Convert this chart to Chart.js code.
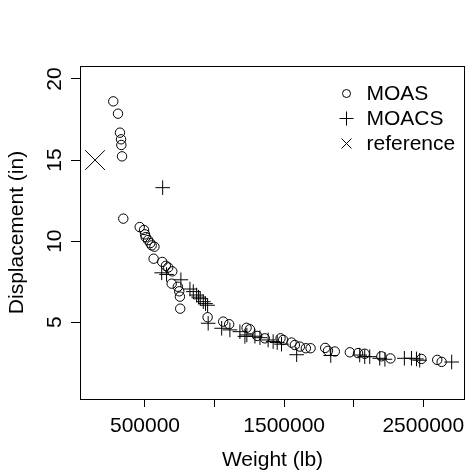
<!DOCTYPE html>
<html>
<head>
<meta charset="utf-8">
<script src="https://cdn.jsdelivr.net/npm/chart.js@4/dist/chart.umd.min.js"></script>
<style>
  body { margin: 0; background: #fff; }
  canvas { display: block; }
</style>
</head>
<body>
<canvas id="chart" width="466" height="473"></canvas>
<script>
// values
const moasWeight = [272000, 306000, 320000, 328000, 330000, 335000, 344000,
  462000, 493000, 500000, 505000, 522000, 538000, 548000, 568000, 562000,
  624000, 650000, 667000, 696000, 692000, 736000, 746000, 751000, 753000,
  950000, 1062000, 1105000, 1230000, 1254000, 1306000, 1361000, 1474000,
  1493000, 1553000, 1577000, 1613000, 1656000, 1690000, 1795000, 1815000,
  1864000, 1972000, 2031000, 2079000, 2199000, 2264000, 2486000, 2600000, 2632000];
const moasDisp = [18.62, 17.86, 16.69, 16.28, 15.93, 15.23, 11.39,
  10.87, 10.69, 10.42, 10.25, 10.07, 9.88, 9.74, 9.66, 8.92,
  8.72, 8.48, 8.38, 8.14, 7.38, 7.19, 6.91, 6.58, 5.84,
  5.31, 5.04, 4.88, 4.66, 4.57, 4.16, 4.01, 4.01,
  3.91, 3.75, 3.60, 3.50, 3.40, 3.40, 3.42, 3.24,
  3.20, 3.15, 3.10, 3.06, 2.90, 2.77, 2.74, 2.68, 2.56];

const moacsWeight = [627000, 620000, 655000, 758000, 823000, 847000, 871000,
  885000, 897000, 919000, 935000, 950000, 954000, 1051000, 1110000, 1182000,
  1218000, 1232000, 1290000, 1326000, 1385000, 1421000, 1450000, 1481000,
  1590000, 1835000, 2043000, 2079000, 2115000, 2187000, 2224000, 2364000,
  2415000, 2451000, 2474000, 2704000];
const moacsDisp = [13.30, 8.05, 7.95, 7.62, 7.05, 6.89, 6.68,
  6.55, 6.45, 6.27, 6.15, 6.05, 4.94, 4.63, 4.53, 4.42,
  4.13, 4.22, 4.14, 4.05, 3.91, 3.81, 3.75, 3.65,
  3.00, 2.95, 2.98, 2.88, 2.88, 2.78, 2.72, 2.78,
  2.78, 2.74, 2.66, 2.55];

const refWeight = [141000];
const refDisp = [15.0];

const seriesNames = ["MOAS", "MOACS", "reference"];
const xTicks = [500000, 1000000, 1500000, 2000000, 2500000];
const xLabelled = [500000, 1500000, 2500000];
const yTicks = [5, 10, 15, 20];

function pts(xs, ys) {
  return xs.map((x, i) => ({ x: x, y: ys[i] }));
}

Chart.defaults.font.family = "'Liberation Sans', Arial, sans-serif";
Chart.defaults.font.size = 21;
Chart.defaults.color = "#000";

const boxAndText = {
  id: "boxAndText",
  afterDraw(chart) {
    const ctx = chart.ctx;
    const a = chart.chartArea;
    ctx.save();
    ctx.strokeStyle = "#000";
    ctx.lineWidth = 1;
    ctx.strokeRect(a.left + 0.5, a.top + 0.5, a.right - a.left - 1, a.bottom - a.top);

    // y tick labels, rotated like R's las=0
    const ys = chart.scales.y;
    ctx.fillStyle = "#000";
    ctx.font = "21px 'Liberation Sans', Arial, sans-serif";
    ctx.textAlign = "center";
    ctx.textBaseline = "alphabetic";
    yTicks.forEach(v => {
      ctx.save();
      ctx.translate(61, ys.getPixelForValue(v));
      ctx.rotate(-Math.PI / 2);
      ctx.fillText(String(v), 0, 0);
      ctx.restore();
    });

    // legend
    const lx = 346.5, tx = 366.5;
    const rows = [93.5, 118.5, 143.5];
    ctx.textAlign = "left";
    ctx.textBaseline = "middle";
    ctx.beginPath();
    ctx.arc(lx, rows[0], 4, 0, Math.PI * 2);
    ctx.moveTo(lx - 7, rows[1]); ctx.lineTo(lx + 7, rows[1]);
    ctx.moveTo(lx, rows[1] - 7); ctx.lineTo(lx, rows[1] + 7);
    ctx.moveTo(lx - 5, rows[2] - 5); ctx.lineTo(lx + 5, rows[2] + 5);
    ctx.moveTo(lx - 5, rows[2] + 5); ctx.lineTo(lx + 5, rows[2] - 5);
    ctx.stroke();
    seriesNames.forEach((n, i) => ctx.fillText(n, tx, rows[i] + 1));
    ctx.restore();
  }
};

new Chart(document.getElementById("chart"), {
  type: "scatter",
  data: {
    datasets: [
      {
        label: seriesNames[0],
        data: pts(moasWeight, moasDisp),
        pointStyle: "circle",
        pointRadius: 4.7,
        borderColor: "#000",
        backgroundColor: "rgba(0,0,0,0)",
        borderWidth: 1
      },
      {
        label: seriesNames[1],
        data: pts(moacsWeight, moacsDisp),
        pointStyle: "cross",
        pointRadius: 7.3,
        borderColor: "#000",
        borderWidth: 1
      },
      {
        label: seriesNames[2],
        data: pts(refWeight, refDisp),
        pointStyle: "crossRot",
        pointRadius: 14,
        borderColor: "#000",
        borderWidth: 1
      }
    ]
  },
  options: {
    responsive: false,
    animation: false,
    devicePixelRatio: 1,
    events: [],
    layout: { autoPadding: false, padding: { top: 66, right: 1, left: 0, bottom: 0 } },
    plugins: { legend: { display: false }, tooltip: { enabled: false } },
    scales: {
      x: {
        type: "linear",
        min: 32900,
        max: 2799700,
        afterBuildTicks: s => { s.ticks = xTicks.map(v => ({ value: v })); },
        afterFit: s => {
          s.height = 74;
          s.paddingLeft = 0;
          s.paddingRight = 0;
        },
        ticks: {
          autoSkip: false,
          maxRotation: 0,
          padding: 7,
          callback: v => (xLabelled.includes(v) ? String(v) : "")
        },
        grid: { drawOnChartArea: false, drawTicks: true, tickLength: 8, color: "#000", lineWidth: 1 },
        border: { display: false },
        title: { display: true, text: "Weight (lb)", padding: { top: 0, bottom: 0 } }
      },
      y: {
        type: "linear",
        min: 0.27,
        max: 20.8,
        afterBuildTicks: s => { s.ticks = yTicks.map(v => ({ value: v })); },
        afterFit: s => {
          s.width = 80;
          s.paddingTop = 0;
          s.paddingBottom = 0;
        },
        ticks: { display: false },
        grid: { drawOnChartArea: false, drawTicks: true, tickLength: 9, color: "#000", lineWidth: 1 },
        border: { display: false },
        title: { display: true, text: "Displacement (in)", padding: { top: 5, bottom: 0 } }
      }
    }
  },
  plugins: [boxAndText]
});
</script>
</body>
</html>
